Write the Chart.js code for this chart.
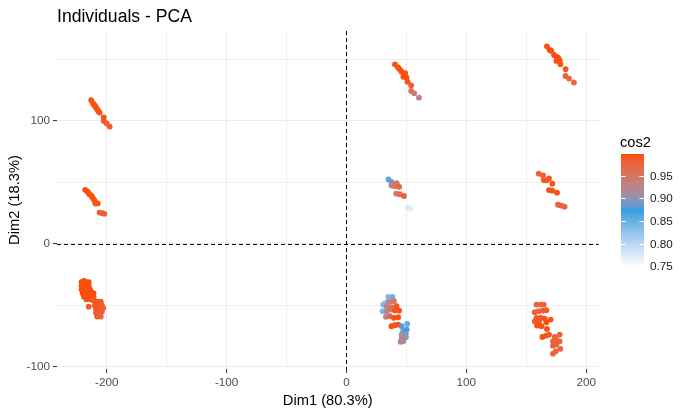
<!DOCTYPE html>
<html>
<head>
<meta charset="utf-8">
<script src="https://cdn.jsdelivr.net/npm/chart.js@4"></script>
<style>
  html, body { margin: 0; padding: 0; background: #ffffff; }
  canvas { display: block; }
</style>
</head>
<body>
<canvas id="c" width="688" height="415"></canvas>
<script>
// ---- Data ----
const dim1 = [
  // cluster left-top
  -213,-211.5,-210.5,-209.5,-209,-208,-207,-206,-202.5,-202.5,-200,-197.5,
  // cluster left-middle
  -218,-216.5,-215.5,-214.5,-213,-212,-211,-210,-209.5,-207.5,-206,-203.5,-202,
  // cluster left-bottom
  -221,-219,-217,-215,-221,-219,-217,-215,-221,-219,-217,-214,-220,-218,-216,-213,-211,
  -219,-216,-213,-211,-217,-214,-211,
  -215,-208,-205,-210,-207,-204,-209,-206,-203,-209,-206,-204,-208,-205,
  // cluster centre-top
  40.5,43,44.5,46,47.5,49,47.5,50,51,54,54,56.5,60.5,
  // cluster centre-middle
  35,37.5,39,42,37.5,40.5,44,41.5,44.5,48,51.5,53.5,
  // cluster centre-bottom
  31.2,34.9,38.5,32.1,34.9,37.6,39.6,30.7,33.5,36.2,39,41.8,30.1,33.5,36.8,40.4,44,
  32.9,36.2,39.6,43.2,37.6,40.4,43.2,46,50.7,47.3,50.2,46,49.6,46,49.6,45.2,47.3,
  // cluster right-top
  167.3,169.6,171,173.2,175.2,176.5,175.2,177.9,178.5,182.9,182.7,185.7,189.8,
  // cluster right-middle
  160.4,164,164.6,166.8,169,171.8,169,171.8,175.7,176.5,179.3,182,
  // cluster right-bottom
  158.5,162.1,164.6,157.1,160.4,164,166.8,158.5,162.1,165.4,170.4,157.1,160.7,166.8,
  159,162.7,167.3,163.5,166.8,169,173.8,177.9,172.3,175.2,177.9,172.3,175.2,178.5,172.3,174.6
];
const dim2 = [
  117,114.5,113,112,111,109.5,108,107,103,100,98,95.5,
  44,43,42,40.5,39.5,38,36.5,35,33,33,25.5,25,24.5,
  -31,-30,-31,-31,-34,-33,-34,-34,-37,-37,-36,-37,-40,-39,-40,-39,-40,
  -43,-42,-42,-43,-45,-45,-46,
  -51,-47,-47,-50,-50,-50,-53,-53,-52,-56,-56,-55,-59,-59,
  146,143.5,142,140,139,139,136,135.5,132,129,124.5,122.5,119,
  52.5,50.5,49,49.5,47.5,47,46.5,41,40.5,39,29.5,28.7,
  -43.8,-43,-43,-47.9,-47.1,-47.1,-46.6,-49.3,-50.6,-51.5,-52,-50.6,-54.7,-54.7,-53.3,-54.2,-54.2,
  -59.3,-58.8,-60.1,-59.6,-66.9,-66.1,-65.6,-66.9,-65,-71,-69.6,-73.7,-73.1,-77,-75.9,-79.6,-79.2,
  160.6,157.8,157,153.7,152.4,151.6,148.9,149.4,146.2,142.1,136.6,134.5,131.3,
  57.2,55.8,52,51.7,53.3,49,43.8,43.3,41.7,31.9,31.1,30.3,
  -49.3,-49.3,-49.3,-55.5,-54.7,-54.2,-53.9,-60.1,-60.1,-60.7,-61.5,-62.9,-62.9,-63.7,
  -66.4,-66.9,-69.1,-75.6,-74.5,-73.7,-75.6,-73.7,-79.2,-77.8,-79.2,-82.7,-81.8,-85.3,-89.2,-87.3
];
const cos2 = [
  0.996,0.996,0.996,0.996,0.996,0.996,0.995,0.995,0.994,0.99,0.986,0.984,
  0.996,0.996,0.996,0.996,0.996,0.996,0.995,0.995,0.994,0.993,0.984,0.983,0.982,
  0.997,0.997,0.997,0.997,0.997,0.997,0.997,0.997,0.997,0.997,0.997,0.997,0.997,0.997,0.997,0.997,0.996,
  0.997,0.997,0.996,0.996,0.996,0.995,0.994,
  0.988,0.99,0.986,0.99,0.988,0.985,0.988,0.985,0.983,0.986,0.984,0.982,0.984,0.982,
  0.996,0.997,0.998,0.998,0.997,0.996,0.996,0.995,0.993,0.985,0.955,0.945,0.932,
  0.86,0.89,0.93,0.945,0.92,0.955,0.975,0.945,0.965,0.975,0.778,0.77,
  0.749,0.84,0.85,0.8,0.92,0.93,0.95,0.84,0.92,0.95,0.97,0.99,0.84,0.92,0.955,0.99,0.995,
  0.925,0.97,0.995,0.995,0.995,0.995,0.995,0.88,0.855,0.895,0.875,0.91,0.89,0.92,0.9,0.93,0.92,
  0.997,0.997,0.997,0.997,0.997,0.997,0.996,0.996,0.995,0.99,0.975,0.975,0.972,
  0.975,0.98,0.985,0.99,0.99,0.995,0.995,0.99,0.995,0.975,0.975,0.972,
  0.975,0.975,0.978,0.975,0.98,0.985,0.985,0.985,0.99,0.993,0.995,0.985,0.99,0.996,
  0.996,0.997,0.998,0.997,0.996,0.99,0.98,0.975,0.98,0.98,0.975,0.975,0.975,0.972,0.975,0.975
];
const xTicks = [-200, -150, -100, -50, 0, 50, 100, 150, 200];
const xTickLabels = ['-200', '', '-100', '', '0', '', '100', '', '200'];
const yTicks = [-100, -50, 0, 50, 100, 150];
const yTickLabels = ['-100', '', '0', '', '100', ''];
const legendTicks = [0.75, 0.80, 0.85, 0.90, 0.95];
const legendTickLabels = ['0.75', '0.80', '0.85', '0.90', '0.95'];
const gradientColours = ['#FFFFFF', '#2E9FDF', '#FC4E07'];
const titleText = 'Individuals - PCA';
const xTitle = 'Dim1 (80.3%)';
const yTitle = 'Dim2 (18.3%)';
const legendTitle = 'cos2';

// ---- Colour scale (Lab interpolation, like ggplot2 gradientn) ----
function hexToLab(hex) {
  const n = parseInt(hex.slice(1), 16);
  let r = ((n >> 16) & 255) / 255, g = ((n >> 8) & 255) / 255, b = (n & 255) / 255;
  const lin = c => c <= 0.04045 ? c / 12.92 : Math.pow((c + 0.055) / 1.055, 2.4);
  r = lin(r); g = lin(g); b = lin(b);
  const X = (0.4124564 * r + 0.3575761 * g + 0.1804375 * b) / 0.95047;
  const Y = (0.2126729 * r + 0.7151522 * g + 0.0721750 * b);
  const Z = (0.0193339 * r + 0.1191920 * g + 0.9503041 * b) / 1.08883;
  const f = t => t > 0.008856 ? Math.cbrt(t) : 7.787 * t + 16 / 116;
  const fx = f(X), fy = f(Y), fz = f(Z);
  return [116 * fy - 16, 500 * (fx - fy), 200 * (fy - fz)];
}
function labToRgb(L, a, bb) {
  const fy = (L + 16) / 116, fx = fy + a / 500, fz = fy - bb / 200;
  const finv = t => { const t3 = t * t * t; return t3 > 0.008856 ? t3 : (t - 16 / 116) / 7.787; };
  const X = finv(fx) * 0.95047, Y = finv(fy), Z = finv(fz) * 1.08883;
  let r = 3.2404542 * X - 1.5371385 * Y - 0.4985314 * Z;
  let g = -0.9692660 * X + 1.8760108 * Y + 0.0415560 * Z;
  let b = 0.0556434 * X - 0.2040259 * Y + 1.0572252 * Z;
  const gam = c => c <= 0.0031308 ? 12.92 * c : 1.055 * Math.pow(c, 1 / 2.4) - 0.055;
  const cl = c => Math.max(0, Math.min(255, Math.round(gam(c) * 255)));
  return 'rgb(' + cl(r) + ',' + cl(g) + ',' + cl(b) + ')';
}
const labStops = gradientColours.map(hexToLab);
const cMin = Math.min(...cos2), cMax = Math.max(...cos2);
function colourFor(v) {
  let t = (v - cMin) / (cMax - cMin);
  t = Math.max(0, Math.min(1, t));
  const seg = t * (labStops.length - 1);
  const i = Math.min(labStops.length - 2, Math.floor(seg));
  const u = seg - i;
  const A = labStops[i], B = labStops[i + 1];
  return labToRgb(A[0] + (B[0] - A[0]) * u, A[1] + (B[1] - A[1]) * u, A[2] + (B[2] - A[2]) * u);
}

const points = dim1.map((x, i) => ({ x: x, y: dim2[i] }));
const colours = cos2.map(colourFor);

const FONT = '"Liberation Sans", Arial, sans-serif';

// ---- Plugins: zero reference lines, title, colour bar legend ----
const zeroLines = {
  id: 'zeroLines',
  beforeDatasetsDraw(chart) {
    const { ctx, chartArea: a, scales: { x, y } } = chart;
    ctx.save();
    ctx.strokeStyle = '#000000';
    ctx.lineWidth = 1;
    ctx.setLineDash([4, 3]);
    const x0 = Math.round(x.getPixelForValue(0)) + 0.5;
    const y0 = Math.round(y.getPixelForValue(0)) + 0.5;
    ctx.beginPath(); ctx.moveTo(x0, a.top); ctx.lineTo(x0, a.bottom); ctx.stroke();
    ctx.beginPath(); ctx.moveTo(a.left, y0); ctx.lineTo(a.right, y0); ctx.stroke();
    ctx.restore();
  }
};
const titleAndLegend = {
  id: 'titleAndLegend',
  afterDraw(chart) {
    const { ctx, chartArea: a } = chart;
    ctx.save();
    // title
    ctx.fillStyle = '#000000';
    ctx.font = '17.6px ' + FONT;
    ctx.textAlign = 'left';
    ctx.textBaseline = 'alphabetic';
    ctx.fillText(titleText, a.left, 22);
    // legend title
    ctx.font = '14.7px ' + FONT;
    ctx.fillText(legendTitle, 620, 146.5);
    // colour bar
    const bx = 621, bw = 23, top = 154, bot = 267;
    const h = bot - top;
    for (let i = 0; i < h; i++) {
      const v = cMax - (i + 0.5) / h * (cMax - cMin);
      ctx.fillStyle = colourFor(v);
      ctx.fillRect(bx, top + i, bw, 1.2);
    }
    ctx.strokeStyle = '#FFFFFF';
    ctx.lineWidth = 1;
    ctx.font = '11.7px ' + FONT;
    ctx.textBaseline = 'middle';
    legendTicks.forEach((v, k) => {
      const yy = bot - (v - cMin) / (cMax - cMin) * h;
      const yr = Math.round(yy) + 0.5;
      ctx.beginPath(); ctx.moveTo(bx, yr); ctx.lineTo(bx + 4.6, yr); ctx.stroke();
      ctx.beginPath(); ctx.moveTo(bx + bw - 4.6, yr); ctx.lineTo(bx + bw, yr); ctx.stroke();
      ctx.fillStyle = '#1A1A1A';
      ctx.fillText(legendTickLabels[k], 650, yy + 0.5);
    });
    ctx.restore();
  }
};

function gridColour(ctx) {
  return '#EBEBEB';
}
function gridWidth(ctx) {
  return (ctx.tick && ctx.tick.value % 100 === 0) ? 1.1 : 0.8;
}
function tickMarkColour(ctx) {
  return (ctx.tick && ctx.tick.value % 100 === 0) ? '#333333' : 'rgba(0,0,0,0)';
}

new Chart(document.getElementById('c'), {
  type: 'scatter',
  data: {
    datasets: [{
      data: points,
      pointBackgroundColor: colours,
      pointBorderWidth: 0,
      pointRadius: 2.9,
      pointHoverRadius: 2.9
    }]
  },
  options: {
    responsive: false,
    animation: false,
    devicePixelRatio: 1,
    layout: { padding: { top: 31, right: 89.5, left: 0, bottom: 0 } },
    plugins: { legend: { display: false }, tooltip: { enabled: false } },
    scales: {
      x: {
        type: 'linear',
        min: -241.5,
        max: 210.3,
        afterBuildTicks: s => { s.ticks = xTicks.map(v => ({ value: v })); },
        afterFit: s => { s.height = 46; },
        border: { display: false },
        grid: { color: gridColour, lineWidth: gridWidth, tickColor: tickMarkColour, tickLength: 4, tickWidth: 1 },
        ticks: {
          autoSkip: false, maxRotation: 0, padding: 3,
          color: '#4D4D4D', font: { family: FONT, size: 11.7 },
          callback: (v) => { const k = xTicks.indexOf(v); return k >= 0 ? xTickLabels[k] : ''; }
        },
        title: { display: true, text: xTitle, color: '#000000', font: { family: FONT, size: 14.7 }, padding: { top: 0, bottom: 5 } }
      },
      y: {
        type: 'linear',
        min: -101.7,
        max: 173.2,
        afterBuildTicks: s => { s.ticks = yTicks.map(v => ({ value: v })); },
        afterFit: s => { s.width = 57; },
        border: { display: false },
        grid: { color: gridColour, lineWidth: gridWidth, tickColor: tickMarkColour, tickLength: 4, tickWidth: 1 },
        ticks: {
          autoSkip: false, padding: 3,
          color: '#4D4D4D', font: { family: FONT, size: 11.7 },
          callback: (v) => { const k = yTicks.indexOf(v); return k >= 0 ? yTickLabels[k] : ''; }
        },
        title: { display: true, text: yTitle, color: '#000000', font: { family: FONT, size: 14.7 }, padding: { top: 6.5, bottom: 0 } }
      }
    }
  },
  plugins: [zeroLines, titleAndLegend]
});
</script>
</body>
</html>
